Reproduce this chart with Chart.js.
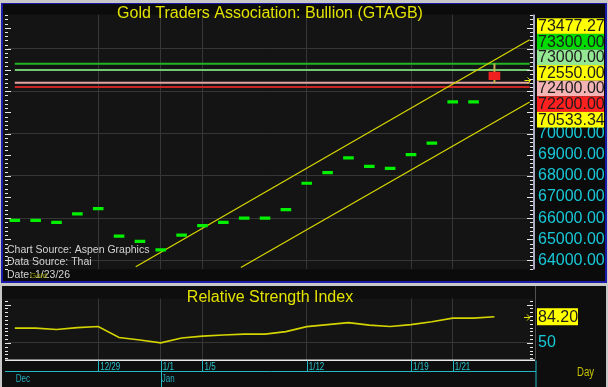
<!DOCTYPE html>
<html>
<head>
<meta charset="utf-8">
<script src="https://cdn.jsdelivr.net/npm/chart.js@4.4.1/dist/chart.umd.min.js"></script>
<style>
  body { margin: 0; background: #c8c8c8; width: 608px; height: 387px; overflow: hidden; }
  canvas { position: absolute; left: 0; }
  #priceChart { top: 0; }
  #rsiChart { top: 284px; }
</style>
</head>
<body>
<canvas id="priceChart" width="608" height="284"></canvas>
<canvas id="rsiChart" width="608" height="103"></canvas>
<script>
// daily closes, 12/23 .. 1/22 (index 0..22)
var closes = [65900, 65900, 65800, 66200, 66450, 65150, 64900, 64500, 65200, 65650, 65800,
              66000, 66000, 66400, 67650, 68150, 68850, 68450, 68350, 69000, 69550, 71500, 71500];
// last bar 1/23: open, high, low, close
var lastOHLC = [72900, 73300, 72400, 72550];
var rsi = [69.3, 69.3, 67.5, 70, 71.5, 57, 53.7, 50, 56.3, 58.9, 60.4, 61.5, 61.5, 64.7,
           71.3, 73.9, 76.5, 73.2, 71.5, 73.9, 77.6, 82.4, 82.4, 84.2];
var levels = [73300, 73000, 72400, 72200];
var upperChannel = [[5.8, 63700], [24.69, 74430]];
var lowerChannel = [[10.84, 63663], [24.69, 71488]];
var tickIdx = [4, 7, 9, 14, 19, 21];
var tickLabels = ['12/29', '1/1', '1/5', '1/12', '1/19', '1/21'];
var monthIdx = [0, 7];
var monthLabels = ['Dec', 'Jan'];
var priceTicks = [64000, 65000, 66000, 67000, 68000, 69000, 70000, 71000, 72000, 73000, 74000, 75000];
var priceShown = [64000, 65000, 66000, 67000, 68000, 69000, 70000];
var topTick = 75000;
var boxLabels = ['73477.27', '73300.00', '73000.00', '72550.00', '72400.00', '72200.00', '70533.34'];
var rsiLast = '84.20';

var levelColors = ['#22b422', '#72c872', '#e4a4a4', '#c82424'];
var boxColors = ['#ffff00', '#00dc00', '#94e894', '#ffff00', '#f4b4b4', '#ff2020', '#ffff00'];

Chart.defaults.font.family = '"Liberation Sans", Arial, sans-serif';

var grid = '#363636';
var xMin = -0.326, xMax = 24.85;

function pts(arr) { return arr.map(function(p){ return {x: p[0], y: p[1]}; }); }

var datasets = [];
levels.forEach(function(v, i){
  datasets.push({ type: 'line', data: [{x: 0, y: v}, {x: 24.69, y: v}], borderColor: levelColors[i],
    borderWidth: 2, pointRadius: 0, order: 6 });
});
datasets.push({ type: 'line', data: pts(upperChannel), borderColor: '#d8d800', borderWidth: 1.2, pointRadius: 0, order: 5 });
datasets.push({ type: 'line', data: pts(lowerChannel), borderColor: '#d8d800', borderWidth: 1.2, pointRadius: 0, order: 5 });
datasets.push({ type: 'bar', data: [{x: 23, y: [lastOHLC[2], lastOHLC[1]]}], backgroundColor: '#c8b450',
  barThickness: 1.3, grouped: false, order: 3 });
datasets.push({ type: 'bar', data: [{x: 23, y: [lastOHLC[3], lastOHLC[0]]}], backgroundColor: '#f02020',
  barThickness: 11, grouped: false, order: 2 });
datasets.push({ type: 'scatter', data: closes.map(function(c, i){ return {x: i, y: c}; }),
  pointStyle: 'line', pointRadius: 5.3, pointBorderWidth: 3.2, borderColor: '#00f000', order: 1 });

function edgeTicks(chart, step, major) {
  var ctx = chart.ctx, a = chart.chartArea, y = chart.scales.y;
  ctx.save();
  ctx.strokeStyle = '#e8e8e8';
  ctx.lineWidth = 1;
  for (var v = Math.ceil(y.min / step) * step; v <= y.max; v += step) {
    var py = Math.round(y.getPixelForValue(v)) + 0.5;
    var len = (v % major === 0) ? 6 : 3;
    ctx.beginPath();
    ctx.moveTo(5, py); ctx.lineTo(5 + len, py);
    ctx.moveTo(a.right - len, py); ctx.lineTo(a.right, py);
    ctx.stroke();
  }
  ctx.restore();
}

function arrow(ctx, x, y) {
  ctx.save();
  ctx.strokeStyle = '#e8e800';
  ctx.lineWidth = 1;
  ctx.beginPath();
  ctx.moveTo(x, y); ctx.lineTo(x + 6, y);
  ctx.moveTo(x + 3, y - 3); ctx.lineTo(x + 6, y); ctx.lineTo(x + 3, y + 3);
  ctx.stroke();
  ctx.restore();
}

var topBg = {
  id: 'topBg',
  beforeDraw: function(chart) {
    var ctx = chart.ctx, a = chart.chartArea;
    ctx.save();
    ctx.fillStyle = '#c8c8c8'; ctx.fillRect(0, 0, 608, 284);
    ctx.fillStyle = '#1a1aa6'; ctx.fillRect(1, 3, 606, 280);
    ctx.fillStyle = '#0b0b0b'; ctx.fillRect(3, 4, 602, 277);
    ctx.fillStyle = '#141414'; ctx.fillRect(3, a.top, a.right - 3, a.bottom - a.top);
    ctx.fillStyle = '#a8a8c0'; ctx.fillRect(a.right, a.top, 2, a.bottom - a.top);
    ctx.restore();
  },
  afterDraw: function(chart) {
    var ctx = chart.ctx, y = chart.scales.y;
    edgeTicks(chart, 200, 1000);
    ctx.save();
    ctx.textBaseline = 'middle';
    ctx.textAlign = 'center';
    ctx.fillStyle = '#e2e200';
    ctx.font = '16px "Liberation Sans", Arial, sans-serif';
    ctx.fillText('Gold Traders Association: Bullion (GTAGB)', 270, 14);

    ctx.textAlign = 'left';
    ctx.fillStyle = '#d4d4d4';
    ctx.font = '10.5px "Liberation Sans", Arial, sans-serif';
    ctx.fillText('Chart Source: Aspen Graphics', 7, 250);
    ctx.fillText('Data Source: Thai', 7, 262.5);
    ctx.fillText('Date: 1/23/26', 7, 275);
    ctx.fillStyle = '#a0a000';
    ctx.font = '8px "Liberation Sans", Arial, sans-serif';
    ctx.fillText('Gold', 30, 275.5);

    // top axis label, mostly hidden behind the value boxes
    ctx.font = '16px "Liberation Sans", Arial, sans-serif';
    ctx.fillStyle = '#19c8d8';
    ctx.fillText(topTick.toFixed(2), 538, y.getPixelForValue(topTick));

    var top0 = 18.3, bh = 15.6;
    boxLabels.forEach(function(t, i){
      var by = top0 + i * bh;
      ctx.fillStyle = boxColors[i];
      ctx.fillRect(537, by, 67, bh);
      ctx.fillStyle = '#1c1c1c';
      ctx.fillText(t, 538, by + bh / 2 + 0.5);
    });
    ctx.restore();
    arrow(ctx, 524.5, Math.round(y.getPixelForValue(lastOHLC[3])) + 0.5);
  }
};

new Chart(document.getElementById('priceChart'), {
  type: 'scatter',
  data: { datasets: datasets },
  options: {
    responsive: false, animation: false, events: [],
    layout: { autoPadding: false, padding: { left: 8, top: 4, right: 0, bottom: 3 } },
    plugins: { legend: { display: false }, tooltip: { enabled: false } },
    scales: {
      x: {
        type: 'linear', min: xMin, max: xMax, offset: false,
        afterBuildTicks: function(s){ s.ticks = tickIdx.map(function(v){ return {value: v}; }); },
        afterFit: function(s){ s.height = 0; },
        ticks: { display: false },
        grid: { color: grid, drawTicks: false, offset: false },
        border: { display: false }
      },
      y: {
        position: 'right', min: 63578, max: 75622,
        afterBuildTicks: function(s){ s.ticks = priceTicks.map(function(v){ return {value: v}; }); },
        afterFit: function(s){ s.width = 75; },
        ticks: {
          color: '#19c8d8', padding: 5, font: { size: 16 },
          callback: function(v){ return priceShown.indexOf(v) >= 0 ? v.toFixed(2) : ''; }
        },
        grid: {
          drawTicks: false,
          color: function(c){ return c.tick && c.tick.value % 2000 === 0 ? grid : 'rgba(0,0,0,0)'; }
        },
        border: { display: false }
      }
    }
  },
  plugins: [topBg]
});

var rsiBg = {
  id: 'rsiBg',
  beforeDraw: function(chart) {
    var ctx = chart.ctx, a = chart.chartArea;
    ctx.save();
    ctx.fillStyle = '#c8c8c8'; ctx.fillRect(0, 0, 608, 103);
    ctx.fillStyle = '#0e0e0e'; ctx.fillRect(2, 2, 604, 101);
    ctx.fillStyle = '#141414'; ctx.fillRect(3, a.top, a.right - 3, a.bottom - a.top);
    ctx.fillStyle = '#505050'; ctx.fillRect(a.right + 2, 2, 1, a.bottom - 2);
    ctx.restore();
  },
  afterDraw: function(chart) {
    var ctx = chart.ctx, a = chart.chartArea, x = chart.scales.x, y = chart.scales.y;
    edgeTicks(chart, 5, 50);
    ctx.save();
    ctx.fillStyle = '#e8e8e8';
    ctx.fillRect(5, a.bottom, a.right - 3, 1.5);

    ctx.strokeStyle = '#22b8c4';
    ctx.lineWidth = 1;
    ctx.beginPath();
    ctx.moveTo(5, 87.5); ctx.lineTo(a.right + 3, 87.5);
    ctx.moveTo(a.right + 3, a.bottom + 1); ctx.lineTo(a.right + 3, 103);
    tickIdx.forEach(function(i){
      var px = Math.round(x.getPixelForValue(i)) + 0.5;
      ctx.moveTo(px, a.bottom + 1); ctx.lineTo(px, 88);
    });
    monthIdx.forEach(function(i){
      if (i === 0) return;
      var px = Math.round(x.getPixelForValue(i)) + 0.5;
      ctx.moveTo(px, 88); ctx.lineTo(px, 103);
    });
    ctx.stroke();

    ctx.textBaseline = 'middle';
    ctx.textAlign = 'left';
    function narrow(t, px, py, size, color) {
      ctx.save();
      ctx.translate(px, py);
      ctx.scale(0.8, 1);
      ctx.font = size + 'px "Liberation Sans", Arial, sans-serif';
      ctx.fillStyle = color;
      ctx.fillText(t, 0, 0);
      ctx.restore();
    }
    tickIdx.forEach(function(i, k){
      narrow(tickLabels[k], x.getPixelForValue(i) + 2, 83, 10, '#2ac4cc');
    });
    monthIdx.forEach(function(i, k){
      narrow(monthLabels[k], x.getPixelForValue(i) + 1, 95, 10, '#24b0c0');
    });
    narrow('Day', 577, 89, 12, '#c4c400');

    ctx.fillStyle = '#e2e200';
    ctx.textAlign = 'center';
    ctx.font = '16px "Liberation Sans", Arial, sans-serif';
    ctx.fillText('Relative Strength Index', 270, 14);

    var py = y.getPixelForValue(rsi[rsi.length - 1]);
    ctx.fillStyle = '#ffff00';
    ctx.fillRect(537, py - 8.5, 41, 17);
    ctx.fillStyle = '#1c1c1c';
    ctx.textAlign = 'left';
    ctx.fillText(rsiLast, 538, py + 0.5);
    ctx.restore();
    arrow(ctx, 524, Math.round(py) + 0.5);
  }
};

new Chart(document.getElementById('rsiChart'), {
  type: 'scatter',
  data: {
    datasets: [{
      data: rsi.map(function(v, i){ return {x: i, y: v}; }),
      showLine: true, borderColor: '#d4d400', borderWidth: 1.6, pointRadius: 0, tension: 0
    }]
  },
  options: {
    responsive: false, animation: false, events: [],
    layout: { autoPadding: false, padding: { left: 8, top: 4, right: 0, bottom: 27.5 } },
    plugins: { legend: { display: false }, tooltip: { enabled: false } },
    scales: {
      x: {
        type: 'linear', min: xMin, max: xMax,
        afterBuildTicks: function(s){ s.ticks = tickIdx.map(function(v){ return {value: v}; }); },
        afterFit: function(s){ s.height = 0; },
        ticks: { display: false },
        grid: { color: grid, drawTicks: false },
        border: { display: false }
      },
      y: {
        position: 'right', min: 28.3, max: 107.9,
        afterBuildTicks: function(s){ s.ticks = [{value: 50}]; },
        afterFit: function(s){ s.width = 75; },
        ticks: { color: '#19c8d8', padding: 5, font: { size: 16 } },
        grid: { color: grid, drawTicks: false },
        border: { display: false }
      }
    }
  },
  plugins: [rsiBg]
});
</script>
</body>
</html>
